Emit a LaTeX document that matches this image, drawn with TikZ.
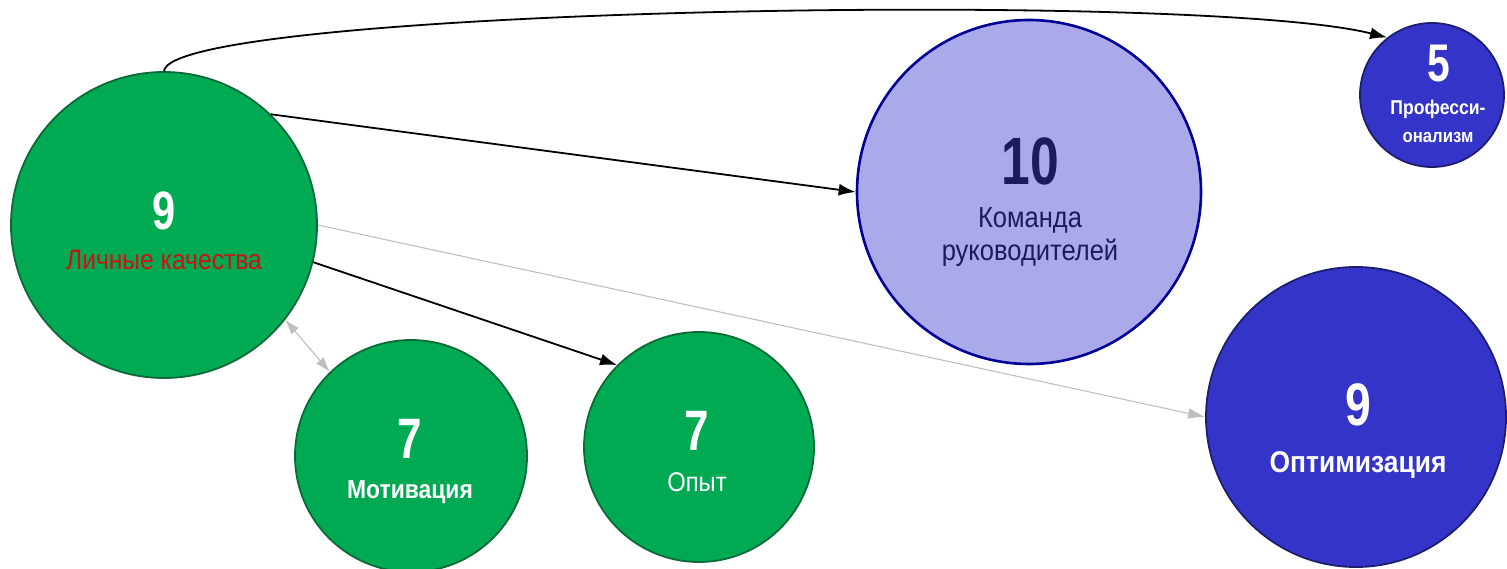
\documentclass[tikz,border=0pt]{standalone}
\usepackage{fontspec}
\newfontfamily\narrow[FakeStretch=0.88]{Liberation Sans}
\newfontfamily\digits[FakeStretch=0.77]{Liberation Sans}
\usetikzlibrary{arrows.meta}
\definecolor{gfill}{RGB}{0,170,82}
\definecolor{gline}{RGB}{12,105,58}
\definecolor{kfill}{RGB}{170,170,234}
\definecolor{kline}{RGB}{0,0,150}
\definecolor{bfill}{RGB}{52,52,200}
\definecolor{bline}{RGB}{30,30,110}
\definecolor{ktext}{RGB}{28,28,92}
\definecolor{redtext}{RGB}{205,18,18}
\definecolor{greyline}{RGB}{190,190,190}
\tikzset{
  gcirc/.style={circle, draw=gline, fill=gfill, line width=1.8pt, inner sep=0pt},
  kcirc/.style={circle, draw=kline, fill=kfill, line width=2.6pt, inner sep=0pt},
  bcirc/.style={circle, draw=bline, fill=bfill, line width=1.8pt, inner sep=0pt},
  txt/.style={anchor=base, inner sep=0pt, font=\narrow},
  num/.style={anchor=base, inner sep=0pt, font=\digits\bfseries},
  blackarrow/.style={line width=1.8pt, -{Latex[length=17pt,width=12pt]}},
  greyarrow/.style={draw=greyline, line width=1.1pt, -{Latex[length=17pt,width=11pt]}},
  greydouble/.style={draw=greyline, line width=1.1pt, {Latex[length=15pt,width=10pt]}-{Latex[length=15pt,width=10pt]}}
}
\begin{document}
\begin{tikzpicture}[x=1pt,y=-1pt]
\useasboundingbox (0,0) rectangle (1507,569);
% circles
\node[gcirc, minimum size=306pt] (big) at (164,225) {};
\node[gcirc, minimum size=232pt] (mot) at (411,456) {};
\node[gcirc, minimum size=230pt] (opyt) at (699,447) {};
\node[kcirc, minimum size=344pt] (kom) at (1029,192) {};
\node[bcirc, minimum size=300pt] (opt) at (1356,417) {};
\node[bcirc, minimum size=144pt] (prof) at (1432,95) {};
% texts
\node[num, text=white] (bignum) at (164,230) {\fontsize{54}{60}\selectfont 9};
\node[txt, text=redtext] (biglbl) at (164,270) {\fontsize{28}{30}\selectfont Личные качества};
\node[num, text=white] (motnum) at (410,458) {\fontsize{57}{60}\selectfont 7};
\node[txt, text=white] (motlbl) at (410,498) {\fontsize{26}{30}\selectfont\bfseries Мотивация};
\node[num, text=white] (opytnum) at (697,450) {\fontsize{57}{60}\selectfont 7};
\node[txt, text=white] (opytlbl) at (697,491) {\fontsize{27}{30}\selectfont Опыт};
\node[num, text=ktext] (komnum) at (1030,185) {\fontsize{67}{70}\selectfont 10};
\node[txt, text=ktext] (komlbl1) at (1030,228) {\fontsize{29}{30}\selectfont Команда};
\node[txt, text=ktext] (komlbl2) at (1030,261) {\fontsize{29}{30}\selectfont руководителей};
\node[num, text=white] (optnum) at (1358,425) {\fontsize{60}{60}\selectfont 9};
\node[txt, text=white] (optlbl) at (1358,472) {\fontsize{30}{34}\selectfont\bfseries Оптимизация};
\node[num, text=white] (profnum) at (1439,82) {\fontsize{53}{56}\selectfont 5};
\node[txt, text=white] (proflbl1) at (1438,115) {\fontsize{20}{22}\selectfont\bfseries Професси-};
\node[txt, text=white] (proflbl2) at (1438,143) {\fontsize{19}{22}\selectfont\bfseries онализм};
% connectors
\coordinate (c1) at (170,8);
\coordinate (c2) at (1200,-10);
\draw[blackarrow] (big.north) .. controls (c1) and (c2) .. (prof.128);
\draw[blackarrow] (big.46) -- (kom.west);
\draw[blackarrow] (big.-14) -- (opyt.135);
\draw[greyarrow] (big.east) -- (opt.west);
\draw[greydouble] (big.-38) -- (mot.134);
\end{tikzpicture}
\end{document}
